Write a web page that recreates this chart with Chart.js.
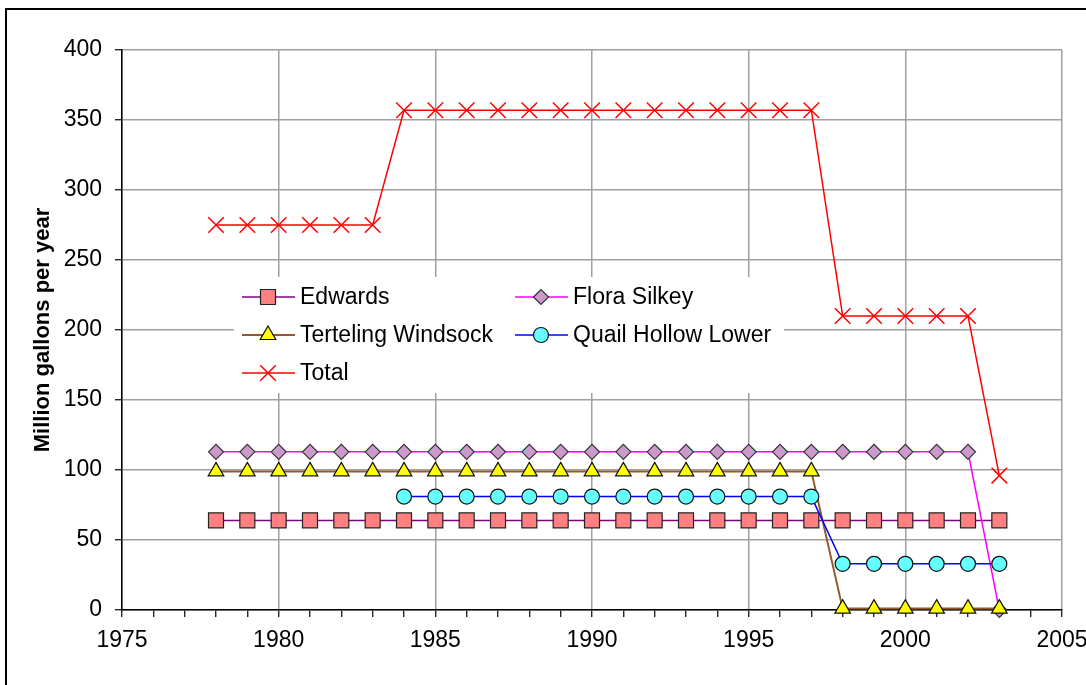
<!DOCTYPE html>
<html lang="en">
<head>
  <meta charset="UTF-8"/>
  <title>Annual withdrawals by source</title>
  <script src="https://cdn.jsdelivr.net/npm/chart.js"></script>
  <style>
    html, body { margin: 0; padding: 0; background: #fff; }
    canvas { display: block; }
  </style>
</head>
<body>
  <canvas id="chart" width="1086" height="685"></canvas>

  <script>
    const years = [1978, 1979, 1980, 1981, 1982, 1983, 1984, 1985, 1986, 1987, 1988, 1989, 1990,
                   1991, 1992, 1993, 1994, 1995, 1996, 1997, 1998, 1999, 2000, 2001, 2002, 2003]

    const edwards = [64, 64, 64, 64, 64, 64, 64, 64, 64, 64, 64, 64, 64,
                     64, 64, 64, 64, 64, 64, 64, 64, 64, 64, 64, 64, 64]
    const floraSilkey = [113, 113, 113, 113, 113, 113, 113, 113, 113, 113, 113, 113, 113,
                         113, 113, 113, 113, 113, 113, 113, 113, 113, 113, 113, 113, 0]
    const tertelingWindsock = [99, 99, 99, 99, 99, 99, 99, 99, 99, 99, 99, 99, 99,
                               99, 99, 99, 99, 99, 99, 99, 1, 1, 1, 1, 1, 1]
    const quailHollowLower = [null, null, null, null, null, null, 81, 81, 81, 81, 81, 81, 81,
                              81, 81, 81, 81, 81, 81, 81, 33, 33, 33, 33, 33, 33]
    const total = [275, 275, 275, 275, 275, 275, 357, 357, 357, 357, 357, 357, 357,
                   357, 357, 357, 357, 357, 357, 357, 210, 210, 210, 210, 210, 96]

    const xTicks = [1975, 1980, 1985, 1990, 1995, 2000, 2005]
    const yTicks = [0, 50, 100, 150, 200, 250, 300, 350, 400]

    const FONT = '"Liberation Sans", Arial, sans-serif'
    const GRID = '#a0a0a0'

    function series(values) {
      return values.map((v, i) => ({ x: years[i], y: v }))
    }

    function lineSet(label, values, line, style, radius, fill, border, order) {
      return {
        label,
        data: series(values),
        borderColor: line,
        borderWidth: 1.5,
        pointStyle: style,
        pointRadius: radius,
        pointHoverRadius: radius,
        pointBackgroundColor: fill,
        pointBorderColor: border,
        pointBorderWidth: style === 'crossRot' ? 1.5 : 1.2,
        tension: 0,
        spanGaps: false,
        clip: false,
        order
      }
    }

    const datasets = [
      lineSet('Edwards', edwards, '#800080', 'rect', 10.6, '#ff8080', '#222', 5),
      lineSet('Flora Silkey', floraSilkey, '#ff00ff', 'rectRot', 7.5, '#cc99cc', '#333', 4),
      lineSet('Terteling Windsock', tertelingWindsock, '#94582e', 'triangle', 9, '#ffff00', '#111', 3),
      lineSet('Quail Hollow Lower', quailHollowLower, '#0000ff', 'circle', 7.5, '#66ffff', '#111', 2),
      lineSet('Total', total, '#ff0000', 'crossRot', 11, '#ff0000', '#ff0000', 1)
    ]
    datasets[2].borderWidth = 2

    // legend sits inside the plot, two columns, white box over the grid
    const legendSlots = [
      { col: 0, row: 0 }, { col: 1, row: 0 },
      { col: 0, row: 1 }, { col: 1, row: 1 },
      { col: 0, row: 2 }
    ]
    const legendBox = { left: 234, right: 784, top: 277, bottom: 393 }
    const legendCols = [242, 515]
    const legendRows = [297, 335, 373]

    function drawMarker(ctx, ds, x, y) {
      ctx.save()
      ctx.fillStyle = ds.pointBackgroundColor
      ctx.strokeStyle = ds.pointBorderColor
      ctx.lineWidth = ds.pointBorderWidth
      if (Chart.helpers && Chart.helpers.drawPoint) {
        Chart.helpers.drawPoint(ctx, {
          pointStyle: ds.pointStyle, radius: ds.pointRadius,
          borderWidth: ds.pointBorderWidth, rotation: 0
        }, x, y)
      } else {
        ctx.beginPath()
        ctx.arc(x, y, ds.pointRadius, 0, Math.PI * 2)
        ctx.fill()
        ctx.stroke()
      }
      ctx.restore()
    }

    const insideLegend = {
      id: 'insideLegend',
      beforeDatasetsDraw(chart) {
        const ctx = chart.ctx
        const b = legendBox
        ctx.save()
        ctx.fillStyle = '#fff'
        ctx.fillRect(b.left, b.top, b.right - b.left, b.bottom - b.top)

        ctx.font = '23px ' + FONT
        ctx.textBaseline = 'middle'
        ctx.textAlign = 'left'
        chart.data.datasets.forEach((ds, i) => {
          const slot = legendSlots[i]
          const x0 = legendCols[slot.col]
          const y0 = legendRows[slot.row]
          ctx.strokeStyle = ds.borderColor
          ctx.lineWidth = ds.borderWidth
          ctx.beginPath()
          ctx.moveTo(x0, y0)
          ctx.lineTo(x0 + 53, y0)
          ctx.stroke()
          drawMarker(ctx, ds, x0 + 26, y0)
          ctx.fillStyle = '#000'
          ctx.fillText(ds.label, x0 + 58, y0 + 1)
        })
        ctx.restore()
      }
    }

    const outerFrame = {
      id: 'outerFrame',
      afterDraw(chart) {
        const ctx = chart.ctx
        ctx.save()
        ctx.strokeStyle = '#000'
        ctx.lineWidth = 2
        ctx.strokeRect(6, 9, chart.width + 50, chart.height + 50)
        ctx.restore()
      }
    }

    new Chart(document.getElementById('chart'), {
      type: 'line',
      data: { datasets },
      plugins: [insideLegend, outerFrame],
      options: {
        responsive: false,
        animation: false,
        events: [],
        layout: { padding: { left: 30, top: 50, right: 24, bottom: 0 } },
        plugins: {
          legend: { display: false },
          tooltip: { enabled: false }
        },
        scales: {
          x: {
            type: 'linear',
            min: xTicks[0],
            max: xTicks[xTicks.length - 1],
            afterBuildTicks(scale) {
              const ticks = []
              for (let v = xTicks[0]; v <= xTicks[xTicks.length - 1]; v++) ticks.push({ value: v })
              scale.ticks = ticks
            },
            afterFit(scale) {
              scale.height = 75
              scale.paddingLeft = 0
              scale.paddingRight = 0
            },
            ticks: {
              autoSkip: false,
              maxRotation: 0,
              padding: 10,
              color: '#000',
              font: { family: FONT, size: 23 },
              callback: v => xTicks.includes(v) ? String(v) : ''
            },
            grid: {
              color: c => (c.tick && xTicks.includes(c.tick.value)) ? GRID : 'rgba(0,0,0,0)',
              lineWidth: 1.5,
              tickColor: '#000',
              tickLength: 7,
              tickWidth: 1.2
            },
            border: { color: '#000', width: 1.5 }
          },
          y: {
            min: yTicks[0],
            max: yTicks[yTicks.length - 1],
            afterBuildTicks(scale) {
              scale.ticks = yTicks.map(v => ({ value: v }))
            },
            afterFit(scale) {
              scale.width = 92
              scale.paddingTop = 0
              scale.paddingBottom = 0
            },
            ticks: {
              padding: 13,
              color: '#000',
              font: { family: FONT, size: 23 }
            },
            grid: {
              color: GRID,
              lineWidth: 1.5,
              tickColor: '#000',
              tickLength: 7,
              tickWidth: 1.2
            },
            border: { color: '#000', width: 1.5 },
            title: {
              display: true,
              text: 'Million gallons per year',
              color: '#000',
              font: { family: FONT, size: 22, weight: 'bold' },
              padding: { top: 0, bottom: 0 }
            }
          }
        }
      }
    })
  </script>
</body>
</html>
